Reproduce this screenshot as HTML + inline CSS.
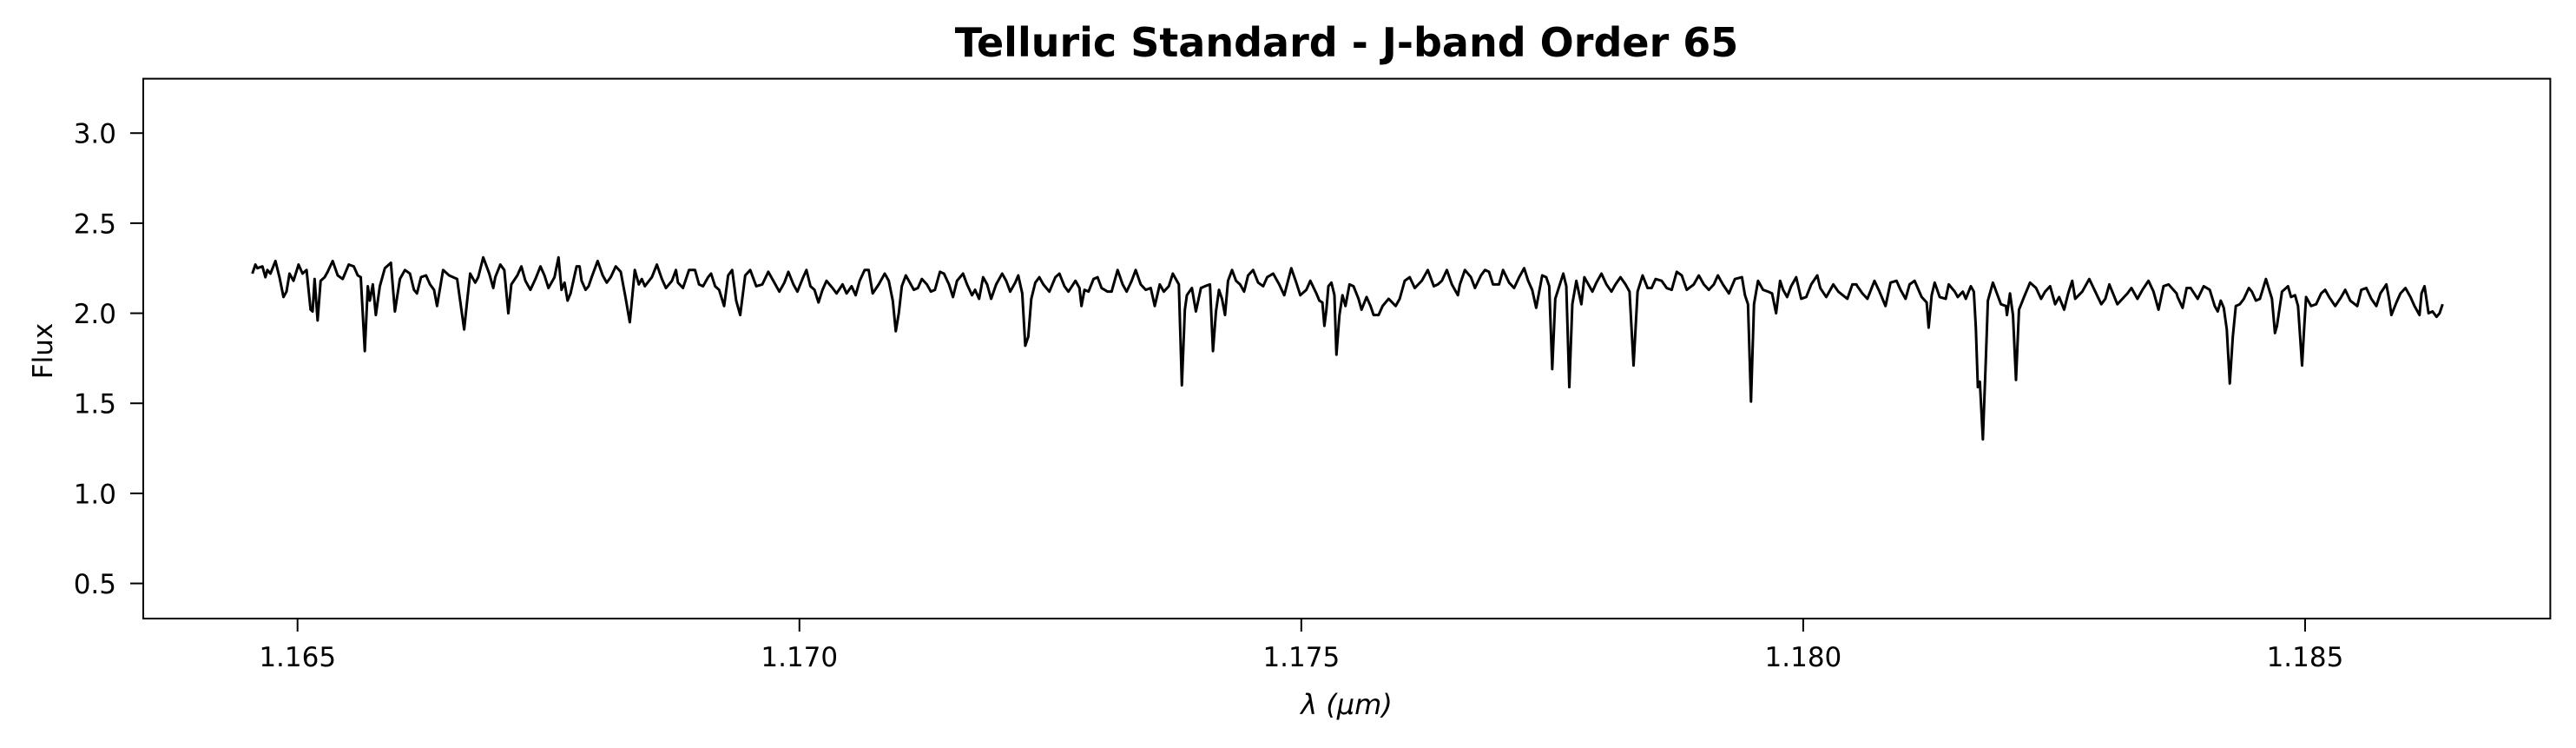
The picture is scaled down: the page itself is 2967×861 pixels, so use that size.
<!DOCTYPE html>
<html><head><meta charset="utf-8"><title>Telluric Standard - J-band Order 65</title>
<style>
html,body{margin:0;padding:0;background:#fff;}
svg{display:block;font-family:"DejaVu Sans","Liberation Sans",sans-serif;}
</style></head>
<body>
<svg id="chart" width="2967" height="861" viewBox="0 0 2967 861" xmlns="http://www.w3.org/2000/svg">
<rect x="0" y="0" width="2967" height="861" fill="#fff"/>
<text x="1551" y="65" text-anchor="middle" font-size="46" font-weight="bold" fill="#000">Telluric Standard - J-band Order 65</text>
<text x="0" y="0" transform="translate(60,404) rotate(-90)" text-anchor="middle" font-size="31" fill="#000">Flux</text>
<text x="1551" y="822" text-anchor="middle" font-size="32" font-style="italic" fill="#000">λ (μm)</text>
<g id="ticks"></g>
<g id="plot"></g>
<rect x="165" y="90.6" width="2772.4" height="621.4" fill="none" stroke="#000" stroke-width="2"/>
</svg>
<script>
const xTicks = [1.165, 1.170, 1.175, 1.180, 1.185];
const xTickLabels = ["1.165", "1.170", "1.175", "1.180", "1.185"];
const yTicks = [0.5, 1.0, 1.5, 2.0, 2.5, 3.0];
const yTickLabels = ["0.5", "1.0", "1.5", "2.0", "2.5", "3.0"];
const wavelength = [
1.16455,1.16458,1.16460,1.16465,1.16468,1.16470,1.16473,1.16478,1.16482,1.16486,1.16489,1.16492,1.16496,1.16501,1.16505,1.16509,1.16513,1.16515,1.16517,1.16520,1.16523,1.16527,1.16530,1.16535,1.16540,1.16545,1.16551,1.16556,1.16560,1.16563,1.16567,1.16570,1.16572,1.16575,1.16578,1.16582,1.16587,1.16593,1.16597,1.16602,1.16607,1.16612,1.16616,1.16619,1.16623,1.16628,1.16632,1.16636,1.16639,1.16645,1.16651,1.16659,1.16662,1.16666,1.16669,1.16672,1.16677,1.16680,1.16685,1.16691,1.16695,1.16697,1.16702,1.16706,1.16710,1.16713,1.16719,1.16723,1.16727,1.16732,1.16737,1.16742,1.16746,1.16750,1.16756,1.16760,1.16763,1.16766,1.16769,
1.16772,1.16778,1.16781,1.16783,1.16787,1.16790,1.16793,1.16799,1.16804,1.16808,1.16812,1.16817,1.16822,1.16827,1.16831,1.16836,1.16840,1.16843,1.16846,1.16853,1.16858,1.16863,1.16867,1.16873,1.16877,1.16879,1.16884,1.16890,1.16896,1.16900,1.16904,1.16909,1.16912,1.16916,1.16920,1.16925,1.16929,1.16933,1.16937,1.16941,1.16946,1.16951,1.16957,1.16963,1.16969,1.16973,1.16980,1.16985,1.16989,1.16994,1.16998,1.17003,1.17007,1.17011,1.17015,1.17019,1.17023,1.17027,1.17033,1.17037,1.17043,1.17047,1.17052,1.17056,1.17060,1.17065,1.17069,1.17073,1.17079,1.17085,1.17089,1.17093,
1.17096,1.17099,1.17102,1.17106,1.17109,1.17114,1.17118,1.17122,1.17127,1.17131,1.17135,1.17140,1.17144,1.17149,1.17153,1.17157,1.17163,1.17167,1.17172,1.17175,1.17179,1.17183,1.17187,1.17191,1.17196,1.17202,1.17206,1.17210,1.17215,1.17218,1.17222,1.17225,1.17228,1.17231,1.17235,1.17239,1.17243,1.17249,1.17255,1.17259,1.17264,1.17268,1.17275,1.17279,1.17281,1.17284,1.17288,1.17293,1.17297,1.17301,1.17307,1.17311,1.17317,1.17322,1.17326,1.17331,1.17335,1.17340,1.17345,1.17350,1.17354,1.17359,1.17363,1.17368,1.17372,1.17378,1.17381,1.17384,1.17386,1.17391,1.17395,1.17400,1.17404,1.17409,
1.17412,1.17415,1.17418,1.17421,1.17424,1.17427,1.17431,1.17435,1.17439,1.17443,1.17447,1.17452,1.17457,1.17462,1.17466,1.17472,1.17478,1.17483,1.17490,1.17495,1.17499,1.17505,1.17509,1.17515,1.17518,1.17521,1.17523,1.17525,1.17527,1.17530,1.17533,1.17535,1.17538,1.17541,1.17544,1.17548,1.17552,1.17557,1.17560,1.17565,1.17569,1.17572,1.17577,1.17581,1.17587,1.17594,1.17598,1.17603,1.17608,1.17613,1.17620,1.17626,1.17632,1.17636,1.17640,1.17645,1.17650,1.17656,1.17658,1.17663,1.17669,1.17673,1.17679,1.17683,1.17687,1.17691,1.17697,1.17701,1.17707,1.17712,1.17717,1.17722,1.17726,1.17730,1.17734,
1.17740,1.17744,1.17747,1.17750,1.17753,1.17757,1.17761,1.17764,1.17767,1.17770,1.17774,1.17779,1.17782,1.17786,1.17790,1.17794,1.17799,1.17804,1.17809,1.17813,1.17818,1.17823,1.17827,1.17831,1.17835,1.17840,1.17845,1.17849,1.17853,1.17859,1.17864,1.17869,1.17874,1.17879,1.17884,1.17891,1.17896,1.17901,1.17906,1.17911,1.17915,1.17920,1.17926,1.17932,1.17939,1.17942,1.17945,1.17948,1.17951,1.17955,1.17960,1.17965,1.17969,1.17973,1.17977,1.17980,1.17984,1.17988,1.17993,1.17998,1.18003,1.18008,1.18014,1.18017,1.18023,1.18030,1.18035,1.18044,1.18049,1.18053,
1.18054,1.18059,1.18064,1.18071,1.18076,1.18082,1.18087,1.18093,1.18097,1.18102,1.18106,1.18111,1.18118,1.18123,1.18125,1.18128,1.18131,1.18136,1.18142,1.18145,1.18151,1.18154,1.18159,1.18162,1.18167,1.18170,1.18172,1.18174,1.18176,1.18179,1.18182,1.18184,1.18189,1.18193,1.18197,1.18202,1.18203,1.18206,1.18209,1.18212,1.18215,1.18220,1.18226,1.18232,1.18237,1.18241,1.18246,1.18251,1.18255,1.18260,1.18264,1.18268,1.18271,1.18278,1.18285,1.18291,1.18297,1.18301,1.18305,1.18313,1.18318,1.18323,1.18327,1.18333,1.18338,1.18344,1.18349,1.18354,1.18359,1.18364,1.18372,
1.18373,1.18378,1.18382,1.18386,1.18393,1.18399,1.18405,1.18410,1.18413,1.18416,1.18419,1.18422,1.18425,1.18428,1.18431,1.18435,1.18439,1.18444,1.18447,1.18451,1.18455,1.18461,1.18467,1.18470,1.18472,1.18477,1.18483,1.18486,1.18490,1.18493,1.18497,1.18499,1.18501,1.18506,1.18511,1.18516,1.18520,1.18524,1.18530,1.18536,1.18540,1.18545,1.18552,1.18556,1.18561,1.18566,1.18571,1.18575,1.18581,1.18584,1.18586,1.18591,1.18595,1.18600,1.18605,1.18609,1.18614,1.18616,1.18619,1.18623,1.18627,1.18631,1.18634,1.18637
];
const flux = [
2.22,2.27,2.25,2.26,2.20,2.24,2.22,2.29,2.20,2.09,2.12,2.22,2.18,2.27,2.22,2.24,2.02,2.01,2.19,1.96,2.18,2.20,2.23,2.29,2.21,2.19,2.27,2.26,2.21,2.20,1.79,2.15,2.07,2.16,1.99,2.15,2.25,2.28,2.01,2.19,2.24,2.22,2.13,2.11,2.20,2.21,2.16,2.13,2.04,2.24,2.21,2.19,2.07,1.91,2.07,2.22,2.17,2.20,2.31,2.22,2.14,2.20,2.27,2.24,2.00,2.16,2.21,2.26,2.18,2.13,2.19,2.26,2.21,2.14,2.20,2.31,2.13,2.17,2.07,
2.11,2.26,2.26,2.18,2.13,2.15,2.20,2.29,2.21,2.17,2.20,2.26,2.23,2.08,1.95,2.24,2.16,2.19,2.15,2.20,2.27,2.19,2.14,2.18,2.24,2.17,2.14,2.24,2.24,2.16,2.15,2.20,2.22,2.15,2.13,2.04,2.21,2.24,2.07,1.99,2.21,2.24,2.15,2.16,2.23,2.19,2.12,2.17,2.23,2.16,2.12,2.19,2.24,2.15,2.13,2.06,2.13,2.18,2.14,2.11,2.16,2.11,2.15,2.10,2.18,2.24,2.24,2.11,2.16,2.22,2.18,2.07,
1.90,2.00,2.15,2.21,2.18,2.13,2.14,2.19,2.16,2.12,2.13,2.23,2.22,2.16,2.09,2.18,2.22,2.16,2.10,2.13,2.08,2.20,2.16,2.08,2.16,2.22,2.18,2.12,2.17,2.21,2.11,1.82,1.87,2.08,2.17,2.20,2.16,2.12,2.20,2.22,2.15,2.12,2.18,2.14,2.04,2.13,2.12,2.19,2.20,2.14,2.12,2.12,2.24,2.16,2.12,2.18,2.24,2.16,2.13,2.14,2.04,2.16,2.12,2.15,2.22,2.16,1.60,2.02,2.10,2.14,2.01,2.14,2.15,2.16,
1.79,2.01,2.13,2.08,1.99,2.18,2.24,2.18,2.16,2.12,2.21,2.24,2.17,2.15,2.20,2.22,2.16,2.10,2.25,2.17,2.10,2.13,2.18,2.11,2.07,2.06,1.93,2.02,2.15,2.17,2.10,1.77,1.99,2.10,2.04,2.16,2.15,2.08,2.02,2.09,2.04,1.99,1.99,2.04,2.08,2.04,2.08,2.18,2.20,2.14,2.18,2.24,2.15,2.16,2.18,2.24,2.16,2.10,2.16,2.24,2.20,2.14,2.21,2.24,2.23,2.16,2.16,2.24,2.17,2.14,2.20,2.25,2.18,2.13,2.03,
2.21,2.20,2.15,1.69,2.08,2.15,2.22,2.15,1.59,2.05,2.18,2.05,2.20,2.16,2.12,2.17,2.22,2.16,2.12,2.16,2.20,2.16,2.12,1.71,2.12,2.21,2.14,2.14,2.19,2.18,2.14,2.13,2.23,2.21,2.13,2.16,2.21,2.16,2.13,2.16,2.21,2.16,2.11,2.19,2.20,2.10,2.05,1.51,2.05,2.18,2.13,2.12,2.11,2.00,2.18,2.13,2.09,2.15,2.20,2.08,2.09,2.16,2.21,2.14,2.09,2.16,2.12,2.08,2.16,2.16,
2.15,2.11,2.08,2.18,2.12,2.04,2.17,2.18,2.13,2.08,2.16,2.18,2.09,2.06,1.92,2.10,2.17,2.09,2.08,2.16,2.12,2.09,2.12,2.08,2.15,2.12,1.92,1.59,1.62,1.30,1.75,2.07,2.17,2.11,2.05,2.04,1.99,2.11,1.99,1.63,2.02,2.09,2.17,2.14,2.08,2.12,2.15,2.05,2.09,2.02,2.11,2.18,2.08,2.12,2.19,2.12,2.05,2.08,2.16,2.05,2.08,2.11,2.14,2.08,2.13,2.18,2.12,2.02,2.15,2.16,2.11,
2.09,2.03,2.14,2.14,2.08,2.15,2.13,2.04,2.01,2.07,2.03,1.91,1.61,1.87,2.04,2.05,2.08,2.14,2.12,2.07,2.08,2.19,2.08,1.89,1.93,2.12,2.15,2.09,2.10,2.04,1.71,1.91,2.09,2.04,2.05,2.11,2.13,2.09,2.04,2.09,2.13,2.07,2.04,2.13,2.14,2.08,2.04,2.11,2.16,2.07,1.99,2.06,2.11,2.14,2.09,2.04,1.99,2.11,2.15,2.00,2.01,1.98,2.00,2.05
];

const NS = "http://www.w3.org/2000/svg";
const AX = {left:165, right:2937.4, top:90.6, bottom:712};
const XMIN = 1.163463, XMAX = 1.187443, YMIN = 0.305, YMAX = 3.302;
function xScale(v){ return AX.left + (v - XMIN) / (XMAX - XMIN) * (AX.right - AX.left); }
function yScale(v){ return AX.bottom - (v - YMIN) / (YMAX - YMIN) * (AX.bottom - AX.top); }

const tg = document.getElementById('ticks');
xTicks.forEach((t, i) => {
  const x = xScale(t);
  const ln = document.createElementNS(NS, 'line');
  ln.setAttribute('x1', x); ln.setAttribute('x2', x);
  ln.setAttribute('y1', AX.bottom); ln.setAttribute('y2', AX.bottom + 15);
  ln.setAttribute('stroke', '#000'); ln.setAttribute('stroke-width', '2');
  
  
  tg.appendChild(ln);
  const tx = document.createElementNS(NS, 'text');
  tx.setAttribute('x', x); tx.setAttribute('y', 767);
  tx.setAttribute('text-anchor', 'middle'); tx.setAttribute('font-size', '31');
  tx.textContent = xTickLabels[i];
  
  
  tg.appendChild(tx);
});
yTicks.forEach((t, i) => {
  const y = yScale(t);
  const ln = document.createElementNS(NS, 'line');
  ln.setAttribute('x1', AX.left - 15); ln.setAttribute('x2', AX.left);
  ln.setAttribute('y1', y); ln.setAttribute('y2', y);
  ln.setAttribute('stroke', '#000'); ln.setAttribute('stroke-width', '2');
  
  
  tg.appendChild(ln);
  const tx = document.createElementNS(NS, 'text');
  tx.setAttribute('x', 134); tx.setAttribute('y', y + 11.5);
  tx.setAttribute('text-anchor', 'end'); tx.setAttribute('font-size', '31');
  tx.textContent = yTickLabels[i];
  
  
  tg.appendChild(tx);
});

const n = Math.min(wavelength.length, flux.length);
let d = '';
for (let i = 0; i < n; i++) {
  d += (i ? 'L' : 'M') + xScale(wavelength[i]).toFixed(2) + ',' + yScale(flux[i]).toFixed(2);
}
const path = document.createElementNS(NS, 'path');
path.setAttribute('d', d);
path.setAttribute('fill', 'none');
path.setAttribute('stroke', '#000');
path.setAttribute('stroke-width', '3');
path.setAttribute('stroke-linejoin', 'round');


document.getElementById('plot').appendChild(path);
</script>
</body></html>
